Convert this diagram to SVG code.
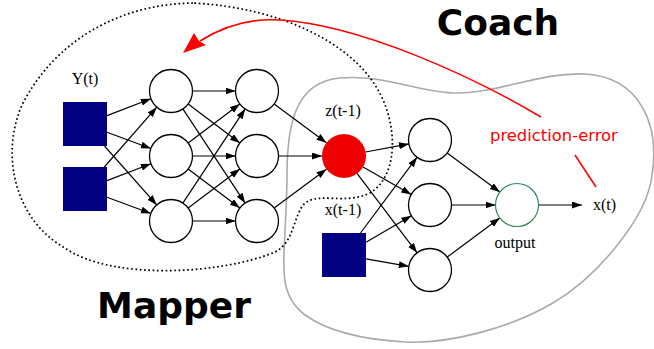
<svg xmlns="http://www.w3.org/2000/svg" width="654" height="349" viewBox="0 0 654 349">
<style>
.sq{fill:#000080}
.nd{fill:#fff;stroke:#000;stroke-width:1.3}
.ed{stroke:#000;stroke-width:1.2;fill:none;marker-end:url(#ah)}
.lb{font-family:"Liberation Serif","Times New Roman",serif;font-size:16px;fill:#000}
.big{font-family:"DejaVu Sans",sans-serif;font-weight:bold;font-size:36px;fill:#000;text-anchor:middle}
</style>
<defs>
<marker id="ah" markerUnits="userSpaceOnUse" markerWidth="12" markerHeight="10" refX="10" refY="3.5" orient="auto" viewBox="0 0 12 10">
<path d="M0,0 L10,3.5 L0,7 z" fill="#000"/>
</marker>
</defs>
<rect width="654" height="349" fill="#fff"/>
<g id="coach-region">
<path d="M 287 175 C 287 125, 295 82, 340 78 C 385 74, 420 93, 457 93 C 500 93, 540 72, 585 74 C 640 77, 660 125, 652 175 C 648 215, 600 275, 553 303 C 510 328, 450 344, 405 342 C 370 340, 330 333, 305 315 C 285 300, 283 280, 284 255 C 285 225, 287 200, 287 175 Z" fill="none" stroke="#aaaaaa" stroke-width="1.6"/>
</g>
<g id="mapper-region">
<path d="M 193 3 C 120 4, 55 40, 22 105 C 0 155, 15 220, 65 248 C 110 280, 220 275, 275 252 C 295 242, 293 215, 305 203 C 320 192, 345 205, 370 193 C 400 175, 398 120, 375 85 C 350 45, 285 8, 193 3 Z" fill="none" stroke="#000" stroke-width="1.7" stroke-dasharray="1.7 2.6"/>
</g>
<g id="connectors">
<path class="ed" d="M107,115.6 L150.9,98.7"/>
<path class="ed" d="M107,132.2 L150.85,148.5"/>
<path class="ed" d="M104.5,146 L156.7,204.9"/>
<path class="ed" d="M104.3,167 L156.8,107.2"/>
<path class="ed" d="M107,180.6 L150.9,163.7"/>
<path class="ed" d="M107,197.2 L150.85,213.5"/>
<path class="ed" d="M192.5,91 L235.5,91"/>
<path class="ed" d="M188.15,103.96 L239.85,143.04"/>
<path class="ed" d="M182.86,108.93 L245.14,203.07"/>
<path class="ed" d="M188.15,143.04 L239.85,103.96"/>
<path class="ed" d="M192.5,156 L235.5,156"/>
<path class="ed" d="M188.15,168.96 L239.85,208.04"/>
<path class="ed" d="M182.86,203.07 L245.14,108.93"/>
<path class="ed" d="M188.15,208.04 L239.85,168.96"/>
<path class="ed" d="M192.5,221 L235.5,221"/>
<path class="ed" d="M274.2,103.9 L326.4,142.8"/>
<path class="ed" d="M278.5,156 L322,156"/>
<path class="ed" d="M274.2,208.1 L326.4,169.2"/>
<path class="ed" d="M365.6,152 L408.9,143.9"/>
<path class="ed" d="M363.1,166.9 L411.3,194.4"/>
<path class="ed" d="M357.2,173.6 L417.1,252.8"/>
<path class="ed" d="M360.5,233 L417.1,157.2"/>
<path class="ed" d="M366,242.2 L411.4,215.8"/>
<path class="ed" d="M366,258.8 L408.8,266.3"/>
<path class="ed" d="M447.2,152.9 L499.8,192.1"/>
<path class="ed" d="M451.5,205 L495.5,205"/>
<path class="ed" d="M447.2,257.1 L499.8,217.9"/>
<path class="ed" d="M538.5,205 L582,205"/>
<path d="M 541 117 C 470 75, 360 25, 280 20 C 250 18, 222 27, 200 41" fill="none" stroke="#ff0000" stroke-width="1.6"/>
<polygon points="183,53 194,33 199,41 206,45" fill="#ff0000"/>
<path d="M575,155 L596,187" stroke="#ff0000" stroke-width="1.6" fill="none"/>
</g>
<g id="input-y1"><rect class="sq" x="63" y="102" width="44" height="44"/></g>
<g id="input-y2"><rect class="sq" x="63" y="167" width="44" height="44"/></g>
<g id="m1a"><circle class="nd" cx="171" cy="91" r="21.5"/></g>
<g id="m1b"><circle class="nd" cx="171" cy="156" r="21.5"/></g>
<g id="m1c"><circle class="nd" cx="171" cy="221" r="21.5"/></g>
<g id="m2a"><circle class="nd" cx="257" cy="91" r="21.5"/></g>
<g id="m2b"><circle class="nd" cx="257" cy="156" r="21.5"/></g>
<g id="m2c"><circle class="nd" cx="257" cy="221" r="21.5"/></g>
<g id="z"><circle cx="344" cy="156" r="22" fill="#ee0000"/></g>
<g id="x-prev"><rect class="sq" x="322" y="233" width="44" height="44"/></g>
<g id="c1"><circle class="nd" cx="430" cy="140" r="21.5"/></g>
<g id="c2"><circle class="nd" cx="430" cy="205" r="21.5"/></g>
<g id="c3"><circle class="nd" cx="430" cy="270" r="21.5"/></g>
<g id="output"><circle cx="517" cy="205" r="21.5" fill="#fff" stroke="#2e8b57" stroke-width="1.2"/></g>
<g id="labels">
<text class="lb" x="85" y="84" text-anchor="middle">Y(t)</text>
<text class="lb" x="343" y="116" text-anchor="middle">z(t-1)</text>
<text class="lb" x="343" y="215" text-anchor="middle">x(t-1)</text>
<text class="lb" x="515" y="248" text-anchor="middle">output</text>
<text class="lb" x="593" y="210">x(t)</text>
<text x="490" y="141" font-family="DejaVu Sans,sans-serif" font-size="16.4" fill="#ff0000">prediction-error</text>
<text class="big" x="498" y="35">Coach</text>
<text class="big" x="174" y="318">Mapper</text>
</g>
</svg>
